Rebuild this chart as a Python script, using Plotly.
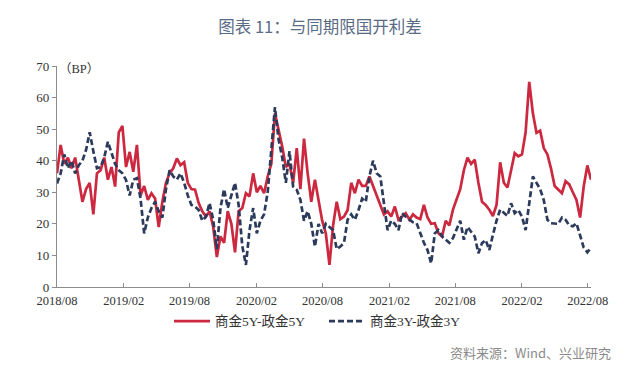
import pandas as pd
import plotly.graph_objects as go

title_text = "图表 11：与同期限国开利差"
source_text = "资料来源：Wind、兴业研究"
unit_text = "（BP）"
series_names = ["商金5Y-政金5Y", "商金3Y-政金3Y"]

start_date = "2018-08-01"
step = "10D"

red_5y = [36, 45, 39, 41, 37.6, 41, 34, 27, 31, 33,
          23, 36, 37, 41, 34, 38, 31.8, 49, 51, 38,
          42.8, 36.5, 45, 29, 32, 27.6, 29.7, 28, 19, 27,
          33, 36, 37.6, 40.7, 38.6, 39.5, 33, 31, 30.8, 26.6,
          24, 22.3, 24, 19, 9.5, 16, 14, 24, 20, 11,
          24, 25, 29.7, 28.7, 36, 30, 32, 29.7, 35, 39,
          55, 50, 44.5, 38, 39, 33, 44, 31, 47, 36,
          27, 34, 28, 21, 17, 7, 19.5, 27, 21.5, 22.3,
          24.4, 33, 29.7, 34, 32, 32, 35, 32, 28.5, 26,
          23, 24, 22.3, 25.5, 21.3, 22.3, 23.4, 21.3, 23, 22,
          21.5, 26, 22, 20, 20.2, 17, 16, 21, 19.5, 24.5,
          28, 31, 37, 41, 39, 40.3, 33, 27, 26, 24.5,
          22.5, 26, 39.5, 33, 31.5, 37, 42.4, 41.4, 42, 49,
          65, 55, 48.8, 49.5, 44, 42, 37.5, 32, 30.8, 29.7,
          33.5, 32.5, 30, 27.6, 22, 31.9, 38.5, 34]

navy_3y = [32.8, 36, 42, 37.6, 40, 36, 38.6, 40, 43.4, 49,
           43, 37.6, 38, 41, 46, 42.3, 39, 37, 36, 33.9,
           29, 34, 34.5, 28, 17, 22, 25, 27, 24, 22,
           31, 37, 35, 34, 36, 33, 29, 26, 25.5, 24.4,
           21, 22.3, 26.6, 21.3, 12, 25, 31, 25, 28.7, 33,
           26, 13, 7, 18, 25, 17, 21, 23, 30, 43,
           57, 46.7, 41, 33, 43, 31.8, 30.8, 27.6, 21, 24,
           20, 12.8, 20, 17, 20, 19, 18, 12, 12.8, 14,
           21.3, 23, 21.3, 24.4, 28, 27, 35, 40, 36, 35,
           26, 18, 21, 20, 18, 23.4, 22.3, 21.3, 20.5, 20.2,
           17, 14, 11.7, 7.5, 17, 18, 16, 15, 14, 15.5,
           18, 21, 15, 19, 17.5, 16, 10.7, 13.9, 14.9, 11.7,
           16.5, 21, 24.5, 23.4, 22.5, 26.5, 23.4, 24.4, 22.3, 18,
           26, 35, 33, 31, 27.5, 21.3, 20.2, 20.2, 20, 22,
           21.3, 19.5, 19.2, 20.2, 16, 12.5, 11, 12.5]

tick_dates = ["2018-08-01", "2019-02-01", "2019-08-01", "2020-02-01", "2020-08-01",
              "2021-02-01", "2021-08-01", "2022-02-01", "2022-08-01"]
tick_labels = ["2018/08", "2019/02", "2019/08", "2020/02", "2020/08",
               "2021/02", "2021/08", "2022/02", "2022/08"]
y_ticks = [0, 10, 20, 30, 40, 50, 60, 70]

dates = pd.date_range(start=start_date, periods=len(red_5y), freq=step)

RED = "#cc283f"
NAVY = "#2c3b5c"
serif = "Liberation Serif, Times New Roman, Noto Sans CJK SC, serif"

fig = go.Figure()
fig.add_trace(go.Scatter(x=dates, y=red_5y, mode="lines", name=series_names[0],
                         line=dict(color=RED, width=2.7)))
fig.add_trace(go.Scatter(x=dates, y=navy_3y, mode="lines", name=series_names[1],
                         line=dict(color=NAVY, width=2.7, dash="6px,3px")))

fig.update_layout(
    width=640, height=365,
    margin=dict(l=57, r=49, t=66, b=78),
    paper_bgcolor="white", plot_bgcolor="white",
    showlegend=True,
    legend=dict(orientation="h", x=0.5, xanchor="center", y=-0.085, yanchor="top",
                font=dict(family=serif, size=13.5, color="#333333"),
                entrywidth=104, entrywidthmode="pixels",
                itemwidth=36, tracegroupgap=0, bgcolor="rgba(0,0,0,0)"),
    title=dict(text=title_text, x=0.5, xanchor="center", y=0.925, yanchor="middle",
               font=dict(family="Noto Sans CJK SC, sans-serif", size=16.5, color="#5a6b85")),
    xaxis=dict(type="date", range=["2018-08-01", "2022-08-10"],
               tickmode="array", tickvals=tick_dates, ticktext=tick_labels,
               showgrid=False, zeroline=False,
               showline=True, linecolor="#8c8c8c", linewidth=1.2,
               ticks="inside", ticklen=4, tickcolor="#8c8c8c",
               ticklabelstandoff=2,
               tickfont=dict(family=serif, size=12.5, color="#333333")),
    yaxis=dict(range=[0, 70], tickmode="array", tickvals=y_ticks,
               showgrid=False, zeroline=False,
               showline=True, linecolor="#8c8c8c", linewidth=1.2,
               ticks="outside", ticklen=4, tickcolor="#8c8c8c",
               tickfont=dict(family=serif, size=13, color="#333333")),
)

fig.add_annotation(text=unit_text, xref="paper", yref="paper", x=0.0, y=1.0,
                   xanchor="left", yanchor="middle", xshift=0, yshift=-3, showarrow=False,
                   font=dict(family=serif, size=12.5, color="#333333"))
fig.add_annotation(text=source_text, xref="paper", yref="paper", x=1.0, y=0,
                   yanchor="middle", xanchor="right", xshift=22, yshift=-65, showarrow=False,
                   font=dict(family="Noto Sans CJK SC, sans-serif", size=13, color="#8a8a8a"))

fig.write_html("out.html", config={"displayModeBar": False},
               post_script="document.body.style.margin='0';document.body.style.padding='0';")
